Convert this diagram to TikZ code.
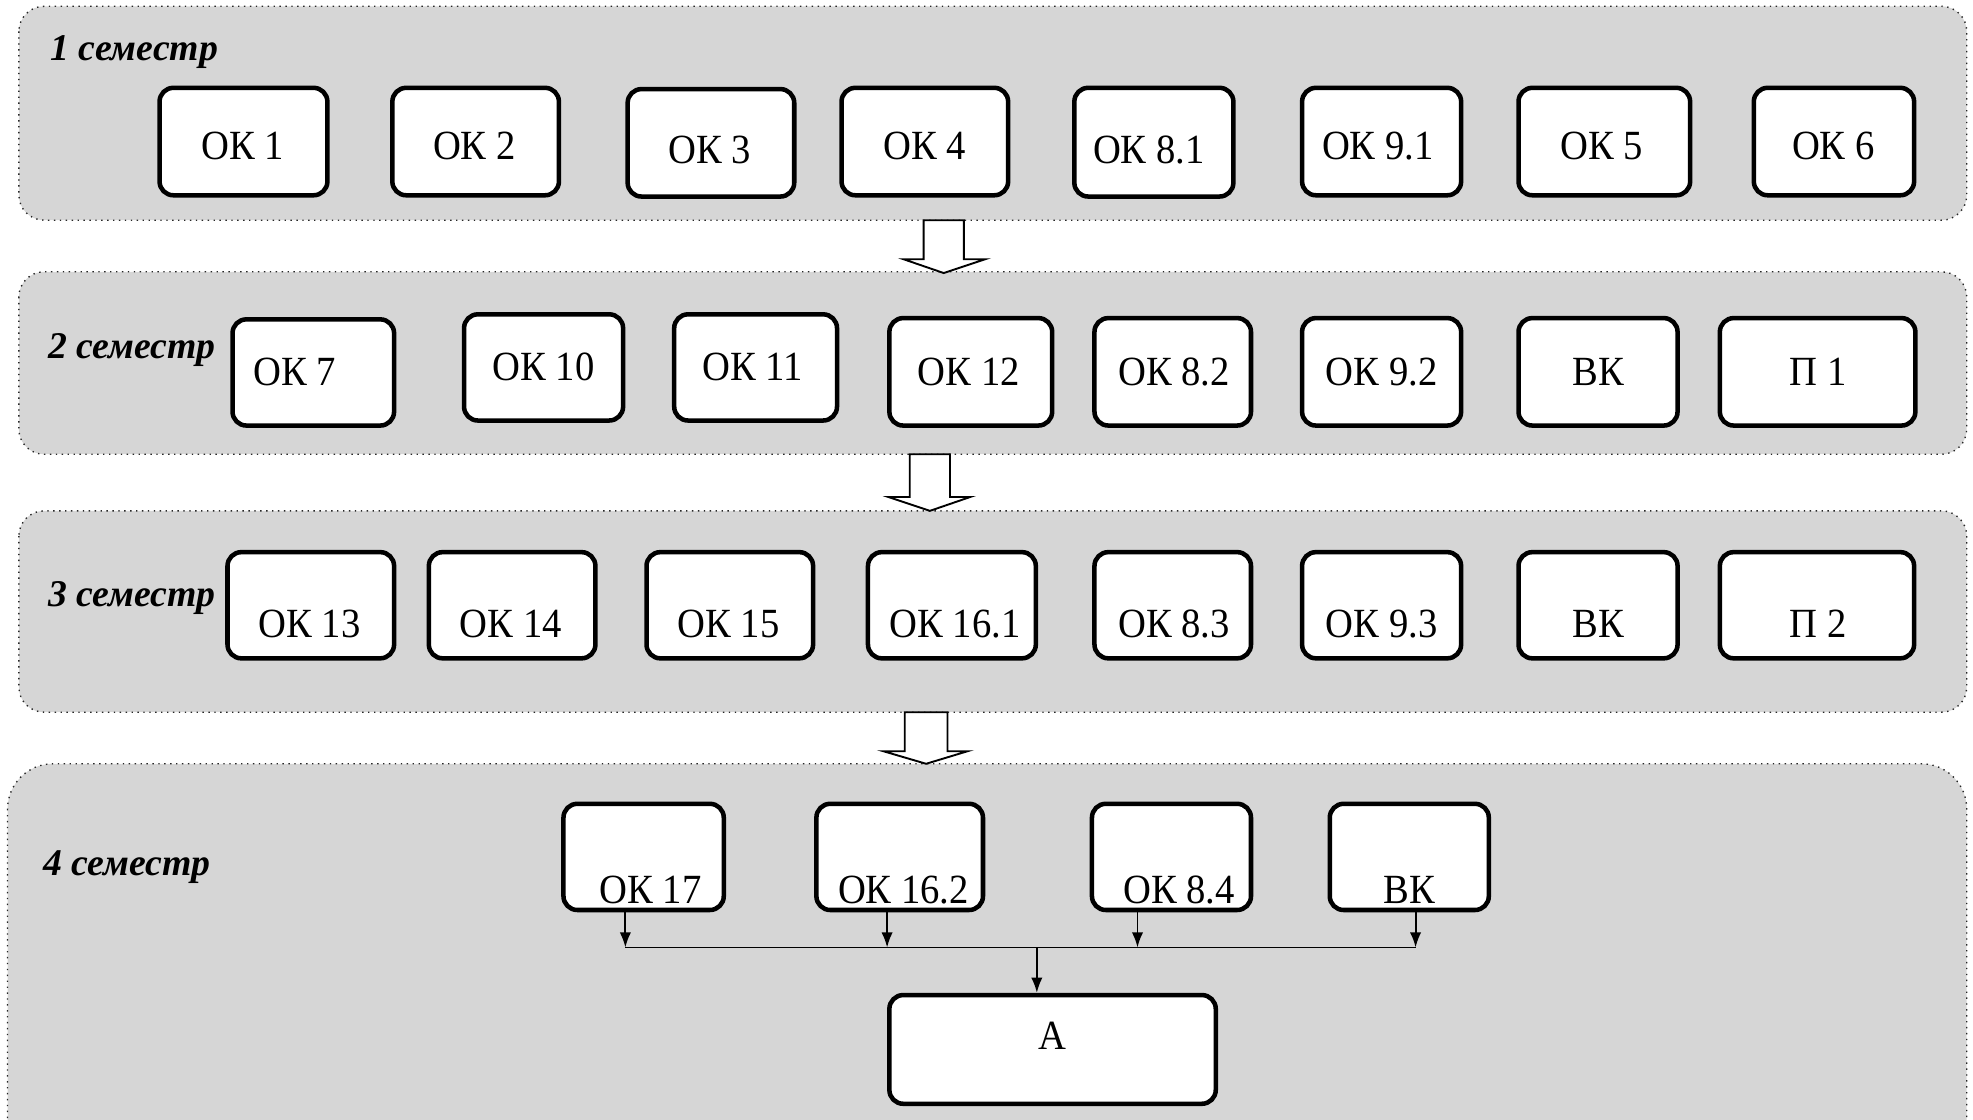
\documentclass[tikz,border=0pt]{standalone}
\usepackage{fontspec}
\setmainfont{Liberation Serif}
\newfontfamily\okfont{Liberation Serif}[FakeStretch=0.93]
\usetikzlibrary{arrows.meta}
\definecolor{panelgray}{RGB}{214,214,214}
\tikzset{
  panel/.style={fill=panelgray, draw=black!85, line width=1.1pt, dash pattern=on 1.1pt off 3.6pt},
  okbox/.style={draw, fill=white, line width=3.6pt, rounded corners=11pt, inner sep=0pt},
  oktxt/.style={font=\okfont\fontsize{33}{38}\selectfont, anchor=base, inner sep=0pt},
  semtxt/.style={font=\fontsize{30}{36}\selectfont\bfseries\itshape, anchor=base west, inner sep=0pt},
  blockarrow/.style={draw, fill=white, line width=1.5pt, line join=miter},
  conn/.style={line width=1.5pt, -{Latex[length=12pt,width=9pt]}},
  busline/.style={line width=1.5pt},
}
\newcommand\mkbox[8]{%
  \node[okbox, minimum width={#4-#2-3.6}, minimum height={#5-#3-3.6}] (#1) at ({(#2+#4)/2},{(#3+#5)/2}) {};
  \node[oktxt] (#1t) at (#6,#7) {#8};}
\begin{document}
\begin{tikzpicture}[x=1pt,y=-1pt]
\useasboundingbox (0,0) rectangle (1568,890);
% panels
\path[panel, rounded corners=20pt] (15,5) rectangle (1563,175);
\path[panel, rounded corners=20pt] (15,216) rectangle (1563,361);
\path[panel, rounded corners=20pt] (15,406) rectangle (1563,566);
\path[panel, rounded corners=36pt] (6,607) rectangle (1563,940);
% block arrows
\draw[blockarrow] (734,175) -- (734,206) -- (718,206) -- (750,217) -- (783,206) -- (766,206) -- (766,175) -- cycle;
\draw[blockarrow] (723,361) -- (723,395) -- (706,395) -- (739,406) -- (771,395) -- (755,395) -- (755,361) -- cycle;
\draw[blockarrow] (719,566) -- (719,597) -- (702,597) -- (736,607) -- (769,597) -- (753,597) -- (753,566) -- cycle;
% semester labels
\node[semtxt] (s1) at (40,48) {1 семестр};
\node[semtxt] (s2) at (38,285) {2 семестр};
\node[semtxt] (s3) at (38,482) {3 семестр};
\node[semtxt] (s4) at (34,696) {4 семестр};
% row 1
\mkbox{b11}{125}{68}{262}{157}{193}{127}{ОК 1}
\mkbox{b12}{310}{68}{446}{157}{377}{127}{ОК 2}
\mkbox{b13}{497}{69}{633}{158}{564}{130}{ОК 3}
\mkbox{b14}{667}{68}{803}{157}{735}{127}{ОК 4}
\mkbox{b15}{852}{68}{982}{158}{913}{130}{ОК 8.1}
\mkbox{b16}{1033}{68}{1163}{157}{1095}{127}{ОК 9.1}
\mkbox{b17}{1205}{68}{1345}{157}{1273}{127}{ОК 5}
\mkbox{b18}{1392}{68}{1523}{157}{1457}{127}{ОК 6}
% row 2
\mkbox{b21}{183}{252}{315}{340}{234}{306}{ОК 7}
\mkbox{b22}{367}{248}{497}{336}{432}{302}{ОК 10}
\mkbox{b23}{534}{248}{667}{336}{598}{302}{ОК 11}
\mkbox{b24}{705}{251}{838}{340}{770}{306}{ОК 12}
\mkbox{b25}{868}{251}{996}{340}{933}{306}{ОК 8.2}
\mkbox{b26}{1033}{251}{1163}{340}{1098}{306}{ОК 9.2}
\mkbox{b27}{1205}{251}{1335}{340}{1270}{306}{ВК}
\mkbox{b28}{1365}{251}{1524}{340}{1445}{306}{П 1}
% row 3
\mkbox{b31}{179}{437}{315}{525}{246}{507}{ОК 13}
\mkbox{b32}{339}{437}{475}{525}{406}{507}{ОК 14}
\mkbox{b33}{512}{437}{648}{525}{579}{507}{ОК 15}
\mkbox{b34}{688}{437}{825}{525}{759}{507}{ОК 16.1}
\mkbox{b35}{868}{437}{996}{525}{933}{507}{ОК 8.3}
\mkbox{b36}{1033}{437}{1163}{525}{1098}{507}{ОК 9.3}
\mkbox{b37}{1205}{437}{1335}{525}{1270}{507}{ВК}
\mkbox{b38}{1365}{437}{1523}{525}{1445}{507}{П 2}
% row 4
\mkbox{b41}{446}{637}{577}{725}{517}{718}{ОК 17}
\mkbox{b42}{647}{637}{783}{725}{718}{718}{ОК 16.2}
\mkbox{b43}{866}{637}{996}{725}{937}{718}{ОК 8.4}
\mkbox{b44}{1055}{637}{1185}{725}{1120}{718}{ВК}
\mkbox{A}{705}{789}{968}{879}{836}{834}{А}
% connectors
\coordinate (j1) at (497,753);
\coordinate (j2) at (705,753);
\coordinate (j3) at (904,753);
\coordinate (j4) at (1125,753);
\coordinate (jc) at (824,753);
\draw[conn] (b41.south -| j1) -- (j1);
\draw[conn] (b42.south -| j2) -- (j2);
\draw[conn] (b43.south -| j3) -- (j3);
\draw[conn] (b44.south -| j4) -- (j4);
\draw[busline] (j1) -- (j4);
\draw[conn] (jc) -- (jc |- A.north);
\end{tikzpicture}
\end{document}
